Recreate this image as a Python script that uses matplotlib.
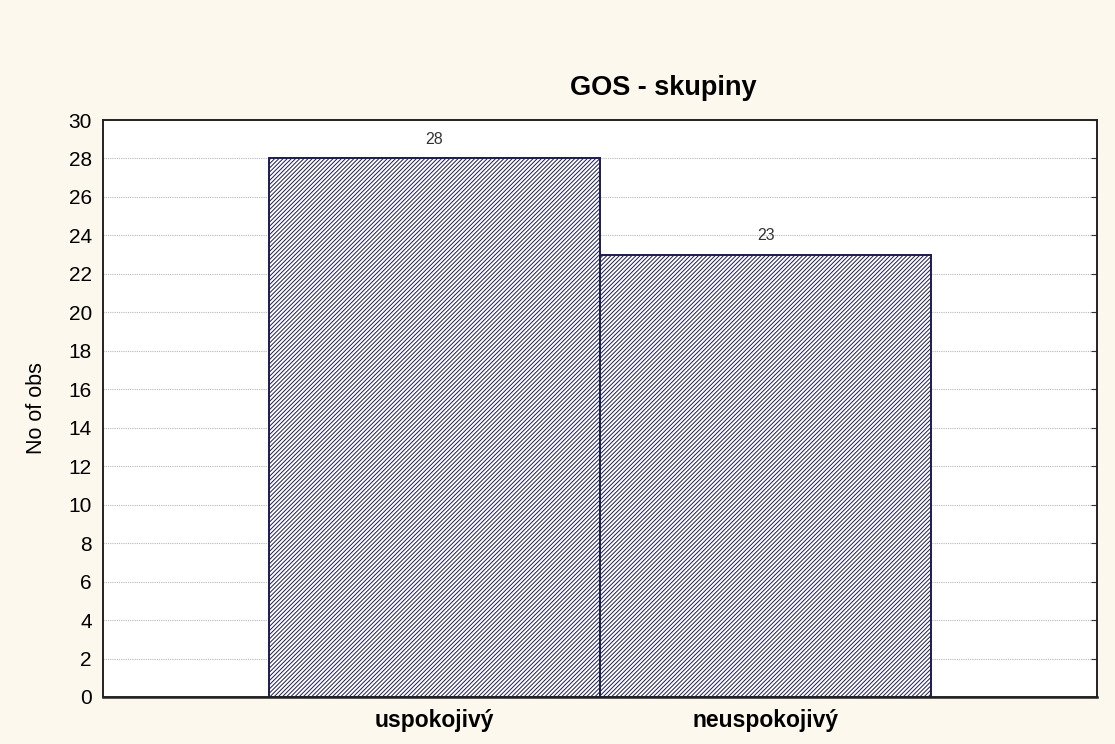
import numpy as np
import matplotlib
matplotlib.use('Agg')
from matplotlib import pyplot as plt

plt.rcParams['font.family'] = ['Liberation Sans', 'DejaVu Sans']
plt.rcParams['hatch.color'] = '#2a2a58'
plt.rcParams['hatch.linewidth'] = 0.7

# GOS outcome groups and their counts
categories = ['uspokojivý', 'neuspokojivý']
counts = [28, 23]
yticks = list(range(0, 31, 2))

fig = plt.figure(figsize=(11.15, 7.44), dpi=100, facecolor='#fcf8ee')
ax = fig.add_axes([103/1115, 1 - 697/744, 994/1115, 577/744])
ax.set_facecolor('white')

x = np.arange(1, len(categories) + 1)
bars = ax.bar(x, counts, width=1.0, color='white', edgecolor='#1c1c4e',
              linewidth=1.4, hatch='////////', zorder=3)

for xi, c in zip(x, counts):
    ax.text(xi, c + 0.6, str(c), ha='center', va='bottom',
            fontsize=11.5, color='#333333', zorder=4)

ax.set_xlim(0, 3)
ax.set_ylim(0, 30)
ax.set_yticks(yticks)
ax.set_xticks(x)
ax.set_xticklabels(categories, fontsize=16.5, fontweight='bold')
ax.tick_params(axis='y', labelsize=15, length=0, pad=8)
ax.tick_params(axis='x', length=0, pad=9)
ax.yaxis.grid(True, linestyle=(0, (1, 1)), color='#b8b8b8', linewidth=0.8, zorder=0)
ax.set_axisbelow(True)

# small inward marks on the right spine
ax2 = ax.twinx()
ax2.set_ylim(0, 30)
ax2.set_yticks(yticks)
ax2.set_yticklabels([])
ax2.tick_params(axis='y', direction='in', length=4, color='#333333')

for a in (ax, ax2):
    for s in a.spines.values():
        s.set_color('#222222')
        s.set_linewidth(1.2)
ax.spines['bottom'].set_linewidth(1.8)

ax.set_ylabel('No of obs', fontsize=15.5)
ax.yaxis.set_label_coords(-0.056, 0.5)

fig.text(663/1115, 1 - 88/744, 'GOS - skupiny', ha='center', va='center',
         fontsize=19.5, fontweight='bold')

fig.savefig('out.png', dpi=100, facecolor=fig.get_facecolor())
